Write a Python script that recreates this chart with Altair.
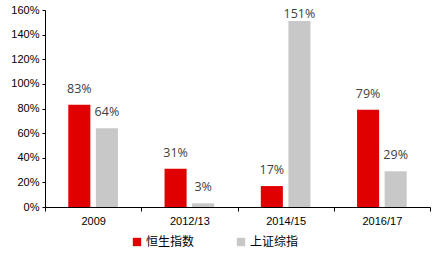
import altair as alt
import pandas as pd

periods = ["2009", "2012/13", "2014/15", "2016/17"]
hsi = [0.83, 0.31, 0.17, 0.79]
sse = [0.64, 0.03, 1.51, 0.29]
series_names = ["恒生指数", "上证综指"]
colors = ["#E00000", "#C8C8C8"]

rows = []
for i, p in enumerate(periods):
    rows.append({"period": p, "series": series_names[0], "value": hsi[i]})
    rows.append({"period": p, "series": series_names[1], "value": sse[i]})
df = pd.DataFrame(rows)

base = alt.Chart(df).encode(
    x=alt.X("period:N", sort=periods, title=None,
            scale=alt.Scale(paddingInner=0, paddingOuter=0),
            axis=alt.Axis(labelAngle=0, tickBand="extent", tickSize=4,
                          labelFont="Liberation Sans", labelFontSize=11,
                          labelColor="#000000", labelPadding=4,
                          domainColor="#000000", tickColor="#000000", grid=False)),
    xOffset=alt.XOffset("series:N", sort=series_names,
                        scale=alt.Scale(paddingInner=0.2, paddingOuter=0.845)),
    y=alt.Y("value:Q", title=None,
            scale=alt.Scale(domain=[0, 1.6], nice=False),
            axis=alt.Axis(format=".0%", values=[0, 0.2, 0.4, 0.6, 0.8, 1.0, 1.2, 1.4, 1.6],
                          grid=False, tickSize=3, labelFont="Liberation Sans",
                          labelFontSize=11, labelColor="#000000", labelPadding=3,
                          domainColor="#000000", tickColor="#000000")),
)

bars = base.mark_bar().encode(
    color=alt.Color("series:N", sort=series_names,
                    scale=alt.Scale(domain=series_names, range=colors),
                    legend=alt.Legend(title=None, orient="none", direction="horizontal",
                                      legendX=86, legendY=226,
                                      symbolType="square", symbolSize=70,
                                      symbolStrokeWidth=0,
                                      labelFont="Noto Sans CJK SC", labelFontSize=12,
                                      labelColor="#000000", columnPadding=40,
                                      symbolOffset=0, labelOffset=3))
)

labels_low = base.transform_filter("datum.value < 1.4").mark_text(
    baseline="bottom", dy=-9, font="Open Sans", fontSize=12.5, color="#404040"
).encode(text=alt.Text("value:Q", format=".0%"))

labels_high = base.transform_filter("datum.value >= 1.4").mark_text(
    baseline="bottom", dy=0, font="Open Sans", fontSize=12.5, color="#404040"
).encode(text=alt.Text("value:Q", format=".0%"))

chart = alt.layer(bars, labels_low, labels_high).properties(
    width=385, height=197,
    autosize=alt.AutoSizeParams(type="none"),
    padding={"left": 45, "top": 10, "right": 6, "bottom": 49},
).configure_view(stroke=None)

chart.save("out.html", embed_options={"renderer": "svg", "actions": False})
